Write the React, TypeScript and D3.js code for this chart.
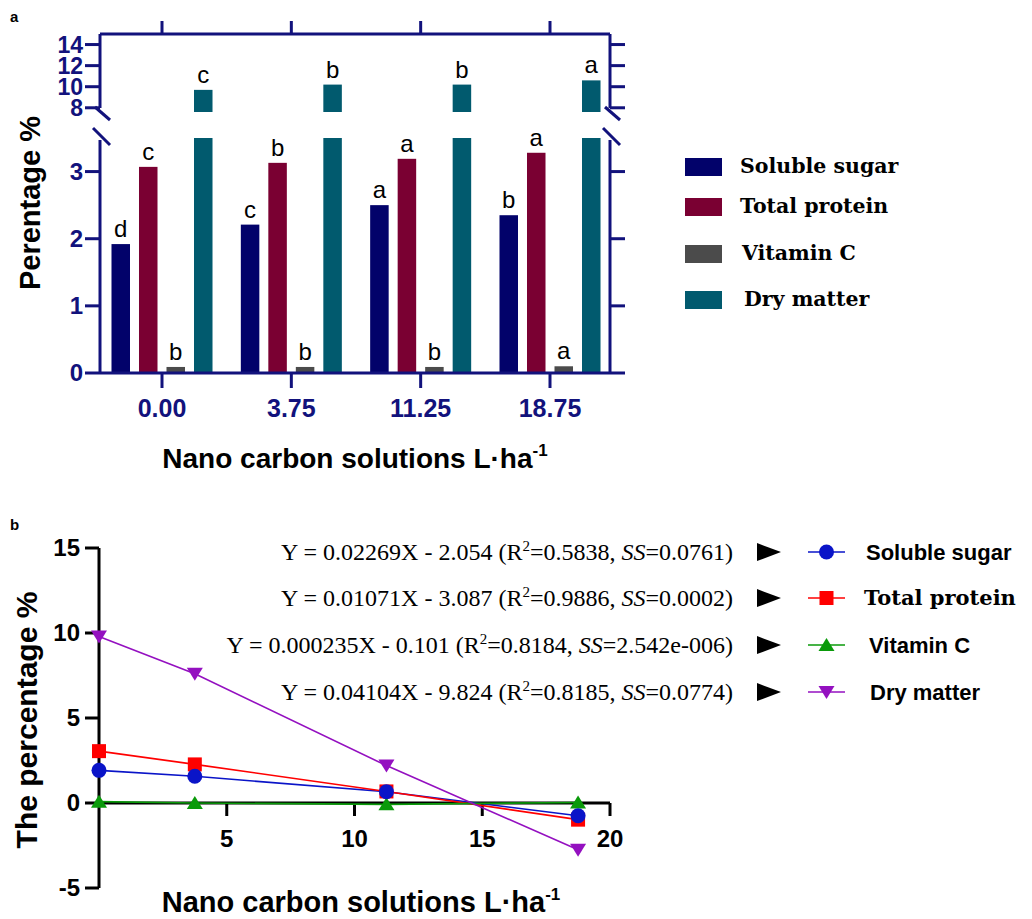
import React from "react";
import * as d3 from "d3";

// ---------- Panel a data ----------
const categories = ["0.00", "3.75", "11.25", "18.75"];
const seriesNames = ["Soluble sugar", "Total protein", "Vitamin C", "Dry matter"];
const solubleSugar = [1.92, 2.21, 2.5, 2.35];
const totalProtein = [3.07, 3.13, 3.19, 3.28];
const vitaminC = [0.09, 0.09, 0.09, 0.1];
const dryMatter = [9.7, 10.2, 10.2, 10.6];
const sugarLetters = ["d", "c", "a", "b"];
const proteinLetters = ["c", "b", "a", "a"];
const vitCLetters = ["b", "b", "b", "a"];
const dryLetters = ["c", "b", "b", "a"];
const lowerTicks = [0, 1, 2, 3];
const upperTicks = [8, 10, 12, 14];

// ---------- Panel b data ----------
const doses = [0, 3.75, 11.25, 18.75];
const sugarDev = [1.92, 1.57, 0.66, -0.75];
const proteinDev = [3.05, 2.27, 0.68, -0.98];
const vitCDev = [0.08, 0.0, -0.08, 0.03];
const dryDev = [9.8, 7.6, 2.2, -2.75];
const xTicksB = [5, 10, 15, 20];
const yTicksB = [-5, 0, 5, 10, 15];
const eqSlopes = ["0.02269", "0.01071", "0.000235", "0.04104"];
const eqIntercepts = ["2.054", "3.087", "0.101", "9.824"];
const eqR2 = ["0.5838", "0.9886", "0.8184", "0.8185"];
const eqSS = ["0.0761", "0.0002", "2.542e-006", "0.0774"];

const barColors = ["#02026a", "#7a0032", "#4b4b4b", "#015a6e"];
const lineColors = ["#0a14c8", "#ff0000", "#0a9a0a", "#9410c0"];
const NAVY = "#12127c";
const SANS = "'Liberation Sans', Arial, sans-serif";
const SERIF = "'Liberation Serif', 'Times New Roman', serif";
const DSERIF = "'DejaVu Serif', serif";

function PanelA() {
  const x = d3.scalePoint<string>().domain(categories).range([162, 550]);
  const inner = d3.scaleBand<string>().domain(seriesNames).range([-59.5, 59.5]).padding(0.327);
  const yLow = d3.scaleLinear().domain([0, 3.5]).range([373, 138]);
  const yUp = d3.scaleLinear().domain([7.6, 15]).range([112, 34]);
  const values = [solubleSugar, totalProtein, vitaminC, dryMatter];
  const letters = [sugarLetters, proteinLetters, vitCLetters, dryLetters];
  const left = 100;
  const right = 610;
  const bw = inner.bandwidth();

  const bars: React.ReactNode[] = [];
  seriesNames.forEach((s, si) => {
    categories.forEach((c, ci) => {
      const v = values[si][ci];
      const bx = (x(c) as number) + (inner(s) as number);
      let topY: number;
      if (v > 3.5) {
        bars.push(
          <rect key={`l${si}${ci}`} x={bx} y={yLow(3.5)} width={bw} height={yLow(0) - yLow(3.5)} fill={barColors[si]} />
        );
        bars.push(
          <rect key={`u${si}${ci}`} x={bx} y={yUp(v)} width={bw} height={yUp(7.6) - yUp(v)} fill={barColors[si]} />
        );
        topY = yUp(v);
      } else {
        bars.push(
          <rect key={`b${si}${ci}`} x={bx} y={yLow(v)} width={bw} height={yLow(0) - yLow(v)} fill={barColors[si]} />
        );
        topY = yLow(v);
      }
      bars.push(
        <text key={`t${si}${ci}`} x={bx + bw / 2} y={topY - 7} textAnchor="middle" fontFamily={SANS} fontSize={24} fill="#000">
          {letters[si][ci]}
        </text>
      );
    });
  });

  const axisW = 3;
  const breakTop = 108;
  const breakBot = 140;
  const slash = (cx: number, key: string) => (
    <g key={key} stroke={NAVY} strokeWidth={3}>
      <line x1={cx - 5} y1={107} x2={cx + 10} y2={120} />
      <line x1={cx - 7} y1={128} x2={cx + 10} y2={145} />
    </g>
  );

  return (
    <g>
      <text x={10} y={22} fontFamily={SANS} fontWeight="bold" fontSize={15}>a</text>
      {bars}
      {/* frame */}
      <g stroke={NAVY} strokeWidth={axisW} fill="none">
        <line x1={left} y1={34} x2={right} y2={34} />
        <line x1={left} y1={34} x2={left} y2={breakTop} />
        <line x1={left} y1={breakBot} x2={left} y2={yLow(0)} />
        <line x1={right} y1={34} x2={right} y2={breakTop} />
        <line x1={right} y1={breakBot} x2={right} y2={yLow(0)} />
        <line x1={left} y1={yLow(0)} x2={right + 15} y2={yLow(0)} />
        {lowerTicks.map((t) => (
          <g key={`lt${t}`}>
            <line x1={left - 15} y1={yLow(t)} x2={left} y2={yLow(t)} />
            {t > 0 && <line x1={right} y1={yLow(t)} x2={right + 15} y2={yLow(t)} />}
          </g>
        ))}
        {upperTicks.map((t) => (
          <g key={`ut${t}`}>
            <line x1={left - 15} y1={yUp(t)} x2={left} y2={yUp(t)} />
            <line x1={right} y1={yUp(t)} x2={right + 15} y2={yUp(t)} />
          </g>
        ))}
        {categories.map((c) => (
          <g key={`xt${c}`}>
            <line x1={x(c)} y1={yLow(0)} x2={x(c)} y2={yLow(0) + 15} />
            <line x1={x(c)} y1={34} x2={x(c)} y2={21} />
          </g>
        ))}
      </g>
      {slash(left, "sl")}
      {slash(right, "sr")}
      {/* tick labels */}
      <g fontFamily={SANS} fontWeight="bold" fontSize={24} fill={NAVY} textAnchor="end">
        {lowerTicks.map((t) => (
          <text key={`ll${t}`} x={83} y={yLow(t)} dy="0.35em">{t}</text>
        ))}
      </g>
      <g fontFamily={SANS} fontWeight="bold" fontSize={23} fill={NAVY} textAnchor="end">
        {upperTicks.map((t) => (
          <text key={`ul${t}`} x={83} y={yUp(t)} dy="0.35em">{t}</text>
        ))}
      </g>
      <g fontFamily={SANS} fontWeight="bold" fontSize={25} fill={NAVY} textAnchor="middle">
        {categories.map((c) => (
          <text key={`xl${c}`} x={x(c)} y={417}>{c}</text>
        ))}
      </g>
      <text transform="translate(40,203) rotate(-90)" textAnchor="middle" fontFamily={SANS} fontWeight="bold" fontSize={29}>
        Perentage %
      </text>
      <text x={355} y={468} textAnchor="middle" fontFamily={SANS} fontWeight="bold" fontSize={28}>
        Nano carbon solutions L·ha<tspan fontSize={17} dy={-12}>-1</tspan>
      </text>
      {/* legend */}
      {seriesNames.map((s, i) => {
        const ys = [158, 198, 245, 291];
        const tx = [740, 740, 742, 744];
        return (
          <g key={`lg${s}`}>
            <rect x={685} y={ys[i]} width={37} height={18} fill={barColors[i]} />
            <text x={tx[i]} y={ys[i] + 15} fontFamily={DSERIF} fontWeight="bold" fontSize={20.5} fill="#000">
              {s}
            </text>
          </g>
        );
      })}
    </g>
  );
}

function Marker({ type, x, y, color }: { type: number; x: number; y: number; color: string }) {
  if (type === 0) return <circle cx={x} cy={y} r={7.5} fill={color} />;
  if (type === 1) return <rect x={x - 7} y={y - 7} width={14} height={14} fill={color} />;
  if (type === 2) return <path d={`M${x},${y - 7} L${x + 8},${y + 6} L${x - 8},${y + 6} Z`} fill={color} />;
  return <path d={`M${x},${y + 7} L${x + 8},${y - 6} L${x - 8},${y - 6} Z`} fill={color} />;
}

function PanelB() {
  const x = d3.scaleLinear().domain([0, 20]).range([99, 610]);
  const y = d3.scaleLinear().domain([-5, 15]).range([888, 548]);
  const series = [sugarDev, proteinDev, vitCDev, dryDev];
  const legendNames = ["Soluble sugar", "Total protein", "Vitamin C", "Dry matter"];
  const legendFonts = [SANS, DSERIF, SANS, SANS];
  const legendX = [866, 864, 869, 870];
  const line = d3
    .line<[number, number]>()
    .x((d) => x(d[0]))
    .y((d) => y(d[1]));
  const rowY = [552, 598, 645, 692];

  return (
    <g>
      <text x={10} y={530} fontFamily={SANS} fontWeight="bold" fontSize={15}>b</text>
      {/* axes */}
      <g stroke="#000" strokeWidth={3}>
        <line x1={x(0)} y1={y(15)} x2={x(0)} y2={y(-5)} />
        <line x1={x(0)} y1={y(0)} x2={x(20)} y2={y(0)} />
        {yTicksB.map((t) => (
          <line key={`yt${t}`} x1={x(0) - 14} y1={y(t)} x2={x(0)} y2={y(t)} />
        ))}
        {xTicksB.map((t) => (
          <line key={`xt${t}`} x1={x(t)} y1={y(0)} x2={x(t)} y2={y(0) + 13} />
        ))}
      </g>
      <g fontFamily={SANS} fontWeight="bold" fontSize={24} fill="#000">
        {yTicksB.map((t) => (
          <text key={`yl${t}`} x={80} y={y(t)} dy="0.35em" textAnchor="end">{t}</text>
        ))}
        {xTicksB.map((t) => (
          <text key={`xl${t}`} x={x(t)} y={847} textAnchor="middle">{t}</text>
        ))}
      </g>
      {/* lines */}
      {series.map((vals, si) => (
        <g key={`s${si}`}>
          <path
            d={line(doses.map((d, i) => [d, vals[i]] as [number, number])) || ""}
            fill="none"
            stroke={lineColors[si]}
            strokeWidth={1.6}
          />
        </g>
      ))}
      {[2, 3, 1, 0].map((si) =>
        doses.map((d, i) => (
          <Marker key={`m${si}${i}`} type={si} x={x(d)} y={y(series[si][i])} color={lineColors[si]} />
        ))
      )}
      {/* titles */}
      <text transform="translate(37,720) rotate(-90)" textAnchor="middle" fontFamily={SANS} fontWeight="bold" fontSize={30}>
        The percentage %
      </text>
      <text x={361} y={912} textAnchor="middle" fontFamily={SANS} fontWeight="bold" fontSize={29}>
        Nano carbon solutions L·ha<tspan fontSize={17} dy={-12}>-1</tspan>
      </text>
      {/* equations + legend */}
      {legendNames.map((n, i) => (
        <g key={`eq${i}`}>
          <text x={733} y={rowY[i]} dy="0.35em" textAnchor="end" fontFamily={SERIF} fontSize={24} fill="#000">
            Y = {eqSlopes[i]}X - {eqIntercepts[i]} (R<tspan fontSize={15} dy={-9}>2</tspan>
            <tspan dy={9}>={eqR2[i]}, </tspan>
            <tspan fontStyle="italic">SS</tspan>={eqSS[i]})
          </text>
          <path d={`M757,${rowY[i] - 9} L781,${rowY[i]} L757,${rowY[i] + 9} Z`} fill="#000" />
          <line x1={808} y1={rowY[i]} x2={845} y2={rowY[i]} stroke={lineColors[i]} strokeWidth={1.6} />
          <Marker type={i} x={826.5} y={rowY[i]} color={lineColors[i]} />
          <text
            x={legendX[i]}
            y={rowY[i]}
            dy="0.35em"
            fontFamily={legendFonts[i]}
            fontWeight="bold"
            fontSize={i === 1 ? 21 : 22}
            fill="#000"
          >
            {n}
          </text>
        </g>
      ))}
    </g>
  );
}

export default function App() {
  return (
    <svg
      width={1032}
      height={919}
      viewBox="0 0 1032 919"
      style={{ position: "absolute", left: 0, top: 0, background: "#fff" }}
    >
      <rect width={1032} height={919} fill="#fff" />
      <PanelA />
      <PanelB />
    </svg>
  );
}
